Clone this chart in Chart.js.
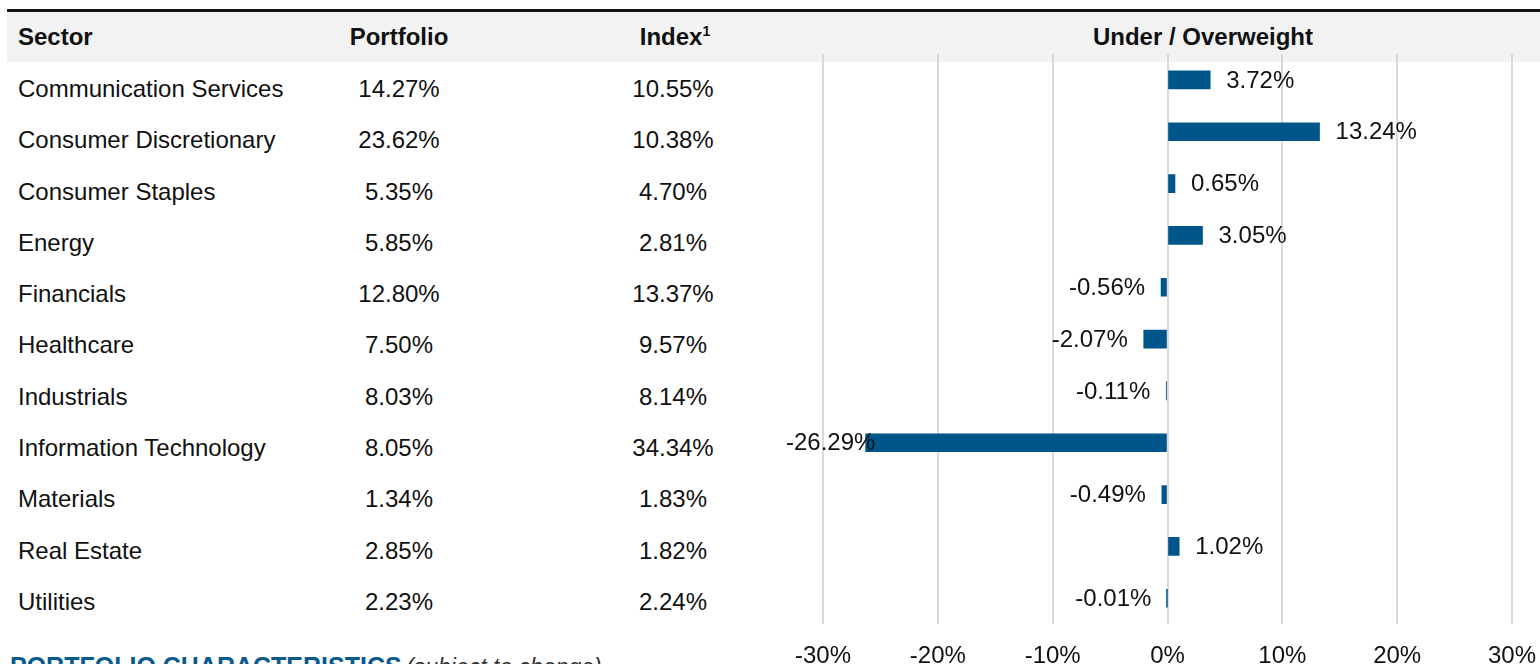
<!DOCTYPE html>
<html>
<head>
<meta charset="utf-8">
<script src="https://cdn.jsdelivr.net/npm/chart.js@4"></script>
<style>
  html, body { margin: 0; padding: 0; width: 1540px; height: 664px; overflow: hidden; background: #fff; }
  body { position: relative; font-family: "Liberation Sans", Arial, sans-serif; color: #111; }
  #band { position: absolute; left: 7px; top: 9px; width: 1533px; height: 50px; background: #f2f2f2; border-top: 3px solid #111; }
  .hd { position: absolute; top: 12px; height: 50px; line-height: 50px; font-size: 24px; font-weight: bold; white-space: nowrap; }
  .hd sup { font-size: 14px; vertical-align: 0; position: relative; top: -9px; }
  .col { position: absolute; top: 63px; font-size: 24px; }
  .col div { height: 51.3px; line-height: 51.3px; white-space: nowrap; }
  #foot { position: absolute; left: 10px; top: 651px; line-height: 30px; white-space: nowrap; }
  #foot b { font-size: 25px; color: #0b5a8e; }
  #foot i { font-size: 23px; color: #333; }
  canvas { position: absolute; left: 0; top: 0; }
</style>
</head>
<body>
<div id="band"></div>
<div class="hd" style="left:18px">Sector</div>
<div class="hd" style="left:299px;width:200px;text-align:center">Portfolio</div>
<div class="hd" style="left:575px;width:200px;text-align:center">Index<sup>1</sup></div>
<div class="hd" style="left:1003px;width:400px;text-align:center">Under / Overweight</div>
<div class="col" id="colSector" style="left:18px"></div>
<div class="col" id="colPort" style="left:299px;width:200px;text-align:center"></div>
<div class="col" id="colIndex" style="left:573px;width:200px;text-align:center"></div>
<div id="foot"><b>PORTFOLIO CHARACTERISTICS</b> <i>(subject to change)</i></div>
<div style="position:absolute;left:0;top:0;width:1540px;height:700px"><canvas id="chart"></canvas></div>
<script>
const sectors = ['Communication Services', 'Consumer Discretionary', 'Consumer Staples', 'Energy',
  'Financials', 'Healthcare', 'Industrials', 'Information Technology', 'Materials', 'Real Estate', 'Utilities'];
const portfolio = [14.27, 23.62, 5.35, 5.85, 12.80, 7.50, 8.03, 8.05, 1.34, 2.85, 2.23];
const indexWeights = [10.55, 10.38, 4.70, 2.81, 13.37, 9.57, 8.14, 34.34, 1.83, 1.82, 2.24];
const overweight = [3.72, 13.24, 0.65, 3.05, -0.56, -2.07, -0.11, -26.29, -0.49, 1.02, -0.01];
const xTicks = [-30, -20, -10, 0, 10, 20, 30];

// table columns
function fillCol(id, values, fmt) {
  const el = document.getElementById(id);
  values.forEach(v => {
    const d = document.createElement('div');
    d.textContent = fmt(v);
    el.appendChild(d);
  });
}
fillCol('colSector', sectors, v => v);
fillCol('colPort', portfolio, v => v.toFixed(2) + '%');
fillCol('colIndex', indexWeights, v => v.toFixed(2) + '%');

// value labels next to the bar ends
const barLabels = {
  id: 'barLabels',
  afterDatasetsDraw(chart) {
    const c = chart.ctx;
    c.save();
    c.font = '24px "Liberation Sans", Arial, sans-serif';
    c.fillStyle = '#111';
    c.textBaseline = 'middle';
    c.textAlign = 'left';
    chart.getDatasetMeta(0).data.forEach((bar, i) => {
      const v = overweight[i];
      const txt = v.toFixed(2) + '%';
      const w = c.measureText(txt).width;
      let x;
      if (v >= 0) {
        x = bar.x + 16;
      } else {
        x = Math.max(786, bar.x - 16 - w);
      }
      c.fillText(txt, x, bar.y + 1);
    });
    c.restore();
  }
};

Chart.defaults.font.family = '"Liberation Sans", Arial, sans-serif';
new Chart(document.getElementById('chart'), {
  type: 'bar',
  data: {
    labels: sectors,
    datasets: [{
      data: overweight,
      backgroundColor: '#00568b',
      barThickness: 18
    }]
  },
  options: {
    indexAxis: 'y',
    responsive: true,
    maintainAspectRatio: false,
    animation: false,
    layout: { padding: { left: 823, right: 28, top: 54, bottom: 11 } },
    plugins: { legend: { display: false }, tooltip: { enabled: false } },
    scales: {
      y: { display: false },
      x: {
        min: -30,
        max: 30,
        afterBuildTicks: axis => { axis.ticks = xTicks.map(v => ({ value: v })); },
        afterFit: axis => { axis.paddingLeft = 0; axis.paddingRight = 0; },
        grid: { color: '#d9d9d9', lineWidth: 2, drawTicks: false },
        border: { display: false },
        ticks: {
          padding: 18,
          color: '#111',
          font: { size: 24 },
          maxRotation: 0,
          callback: v => v + '%'
        }
      }
    }
  },
  plugins: [barLabels]
});
</script>
</body>
</html>
